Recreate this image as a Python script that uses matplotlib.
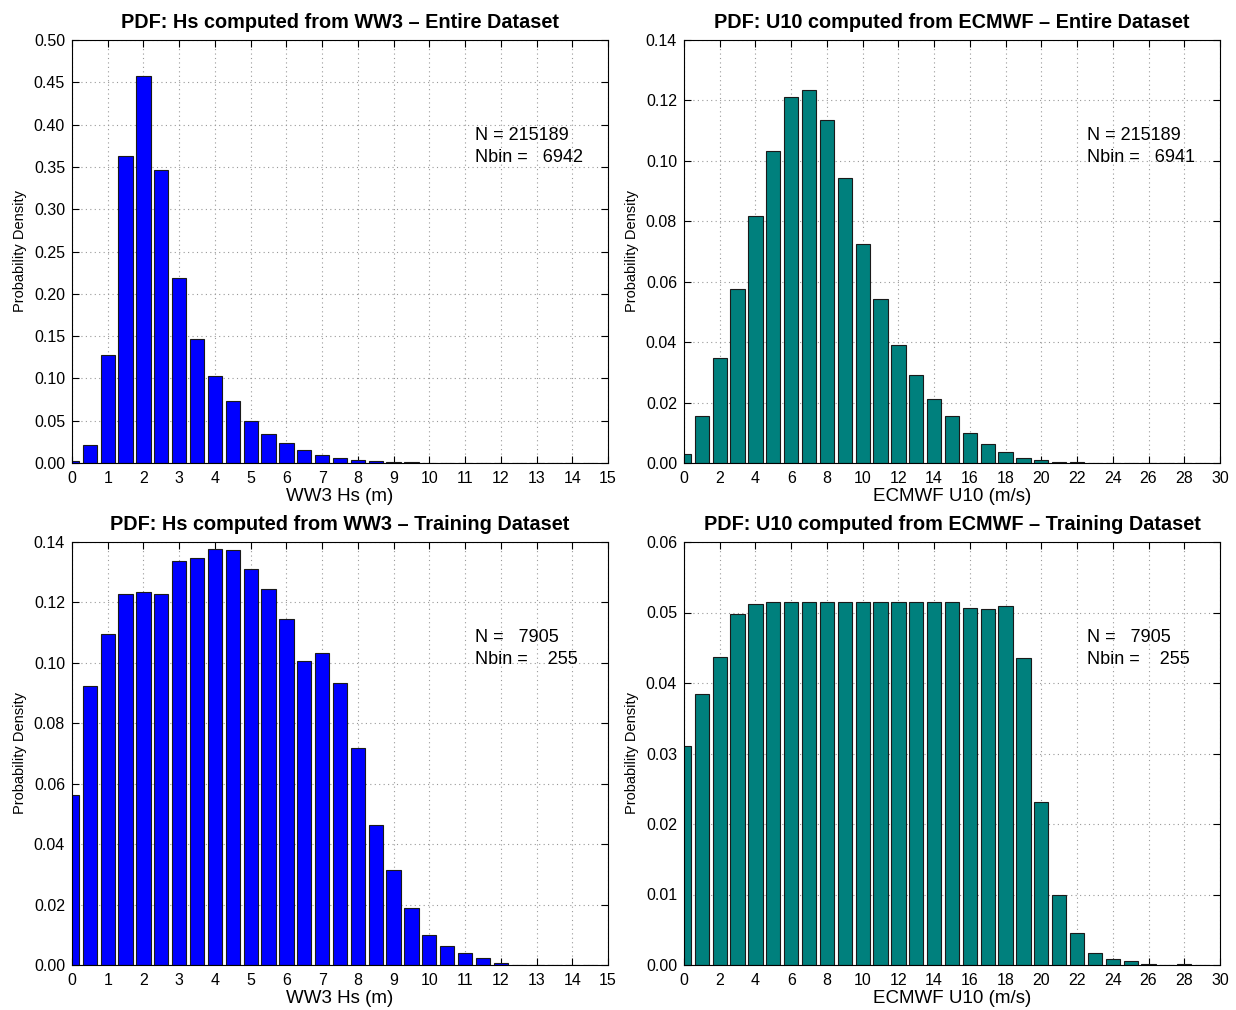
import matplotlib
matplotlib.use("Agg")
import matplotlib.pyplot as plt
import numpy as np

plt.rcParams['font.family'] = ['Liberation Sans', 'DejaVu Sans']

# ---- data ----
hs_centers = [0.0, 0.5, 1.0, 1.5, 2.0, 2.5, 3.0, 3.5, 4.0, 4.5, 5.0, 5.5, 6.0, 6.5,
              7.0, 7.5, 8.0, 8.5, 9.0, 9.5, 10.0, 10.5, 11.0, 11.5, 12.0, 12.5,
              13.0, 13.5, 14.0, 14.5]
hs_entire = [0.0024, 0.0213, 0.128, 0.363, 0.457, 0.346, 0.219, 0.146, 0.103, 0.073,
             0.050, 0.034, 0.024, 0.015, 0.0095, 0.0063, 0.0036, 0.0020, 0.0012, 0.0007,
             0.0004, 0.0002, 0.0001, 0.00007, 0.00005, 0.00003, 0.00002, 0.00001, 0.00001, 0.0]
hs_train = [0.0563, 0.0922, 0.1095, 0.1227, 0.1234, 0.1227, 0.1337, 0.1347, 0.1378, 0.1375,
            0.1309, 0.1244, 0.1145, 0.1006, 0.1033, 0.0932, 0.0717, 0.0462, 0.0315, 0.0190,
            0.0098, 0.0064, 0.0039, 0.0022, 0.0008, 0.0, 0.0, 0.0, 0.0, 0.0]

u10_centers = list(range(0, 30))
u10_entire = [0.0029, 0.0155, 0.0348, 0.0576, 0.0817, 0.1032, 0.1210, 0.1233, 0.1134, 0.0942,
              0.0725, 0.0544, 0.0392, 0.0290, 0.0213, 0.0156, 0.0099, 0.0062, 0.0035, 0.0018,
              0.0009, 0.0004, 0.0002, 0.0001, 0.00005, 0.00003, 0.00002, 0.00001, 0.0, 0.0]
u10_train = [0.0310, 0.0384, 0.0437, 0.0498, 0.0512, 0.0515, 0.0515, 0.0515, 0.0515, 0.0515,
             0.0515, 0.0515, 0.0515, 0.0515, 0.0515, 0.0515, 0.0507, 0.0505, 0.0509, 0.0435,
             0.0231, 0.0100, 0.0046, 0.0017, 0.0009, 0.0005, 0.0002, 0.0, 0.0001, 0.0]

titles = ["PDF: Hs computed from WW3 \u2013 Entire Dataset",
          "PDF: U10 computed from ECMWF \u2013 Entire Dataset",
          "PDF: Hs computed from WW3 \u2013 Training Dataset",
          "PDF: U10 computed from ECMWF \u2013 Training Dataset"]
xlabels = ["WW3 Hs (m)", "ECMWF U10 (m/s)", "WW3 Hs (m)", "ECMWF U10 (m/s)"]
ann_N = ["215189", "215189", "  7905", "  7905"]
ann_Nbin = ["  6942", "  6941", "   255", "   255"]

hs_color = (0.0, 0.0, 1.0)
u10_color = (0.0, 0.5, 0.49)

fig = plt.figure(figsize=(12.36, 10.10), dpi=100)
W, H = 1236, 1010
boxes = [(72, 40, 608, 463), (684, 40, 1220, 463),
         (72, 542, 608, 965), (684, 542, 1220, 965)]

configs = [
    (hs_centers, hs_entire, 0.4, hs_color, (0, 15), np.arange(0, 16, 1), (0, 0.5), np.arange(0, 0.501, 0.05), "%.2f"),
    (u10_centers, u10_entire, 0.8, u10_color, (0, 30), np.arange(0, 31, 2), (0, 0.14), np.arange(0, 0.1401, 0.02), "%.2f"),
    (hs_centers, hs_train, 0.4, hs_color, (0, 15), np.arange(0, 16, 1), (0, 0.14), np.arange(0, 0.1401, 0.02), "%.2f"),
    (u10_centers, u10_train, 0.8, u10_color, (0, 30), np.arange(0, 31, 2), (0, 0.06), np.arange(0, 0.0601, 0.01), "%.2f"),
]

for i, (box, cfg) in enumerate(zip(boxes, configs)):
    x0, y0, x1, y1 = box
    ax = fig.add_axes([x0 / W, 1 - y1 / H, (x1 - x0) / W, (y1 - y0) / H])
    xs, ys, bw, col, xl, xt, yl, yt, fmt = cfg
    ax.bar(xs, ys, width=bw, color=col, edgecolor='#1a1a1a', linewidth=0.8, zorder=2)
    ax.set_xlim(*xl)
    ax.set_ylim(*yl)
    ax.set_xticks(xt)
    ax.set_yticks(yt)
    ax.set_yticklabels([fmt % v for v in yt])
    ax.grid(True, linestyle=(0, (1, 3)), color='#999999', linewidth=0.8, zorder=0)
    ax.set_axisbelow(True)
    ax.tick_params(direction='in', top=True, right=True, labelsize=11.5, length=5, width=0.8)
    ax.tick_params(axis='x', pad=6)
    ax.tick_params(axis='y', pad=5)
    for s in ax.spines.values():
        s.set_linewidth(0.8)
    ax.set_title(titles[i], fontsize=14.3, fontweight='bold', pad=9)
    ax.set_xlabel(xlabels[i], fontsize=13.5, labelpad=1)
    ax.set_ylabel("Probability Density", fontsize=10.5, labelpad=5)
    ax.text(0.752, 0.775, "N = " + ann_N[i], transform=ax.transAxes, fontsize=13,
            va='center', ha='left')
    ax.text(0.752, 0.723, "Nbin = " + ann_Nbin[i], transform=ax.transAxes, fontsize=13,
            va='center', ha='left')

fig.savefig("out.png", dpi=100, facecolor='white')
